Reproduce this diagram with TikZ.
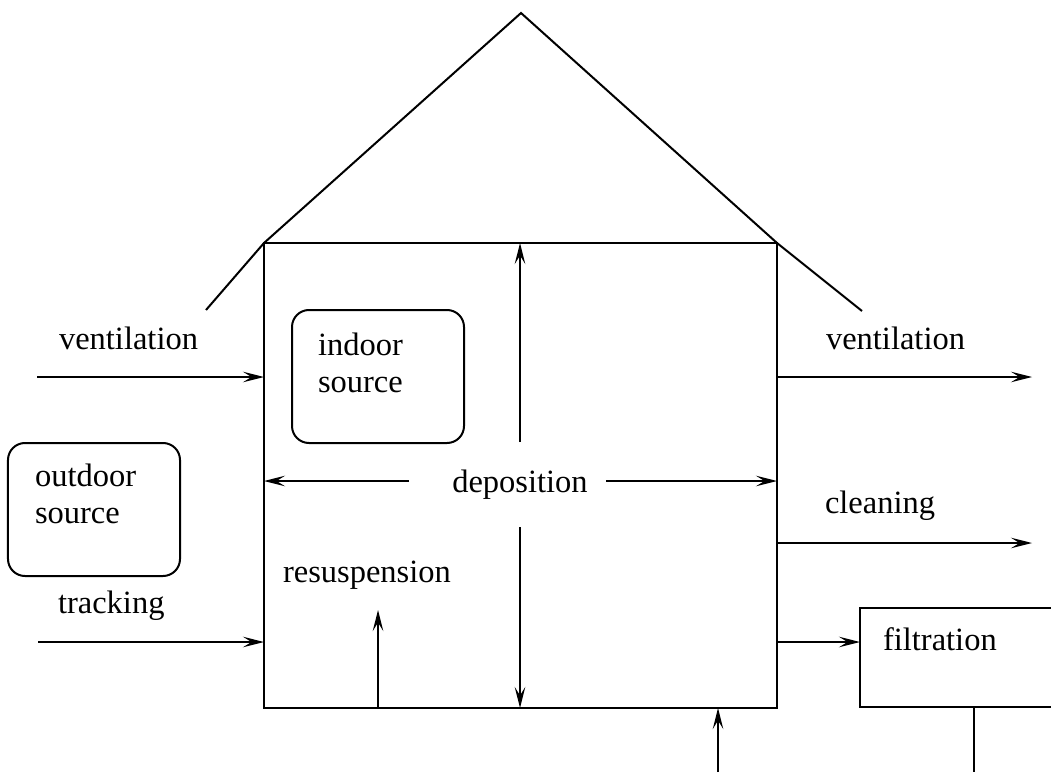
\documentclass[tikz,border=0pt]{standalone}
\usepackage{fontspec}
\setmainfont{Liberation Serif}
\usetikzlibrary{arrows.meta}
\tikzset{%
    flow/.style={-{Stealth[length=8.4pt,width=4.2pt,inset=3.4pt]}},
    srcbox/.style={draw, rounded corners=6.8pt, minimum width=68.8pt,
        minimum height=53.2pt, inner sep=0pt, outer sep=0pt},
    lbl/.style={anchor=base west, inner sep=0pt, align=left,
        font=\fontsize{13}{14.6}\selectfont}
}

\begin{document}
\begin{tikzpicture}[x=0.4pt,y=-0.4pt,line width=0.8pt]
    \useasboundingbox (0,0) rectangle (1051,772);
    \clip (0,0) rectangle (1051,772);
    % house and roof
    \node[draw, minimum width=205.2pt, minimum height=186pt, inner sep=0pt,
        outer sep=0pt] (house) at (520.5,475.5) {};
    \coordinate (apex) at (521,13);
    \coordinate (eaveL) at (206,310);
    \coordinate (eaveR) at (862,311);
    \draw (eaveL) -- (house.north west) -- (apex) -- (house.north east) -- (eaveR);
    % sources and filter
    \node[srcbox] (indoor) at (378,376.5) {};
    \node[srcbox] (outdoor) at (94,509.5) {};
    \node[draw, minimum width=100pt, minimum height=39.6pt, inner sep=0pt,
        outer sep=0pt] (filter) at (985,657.5) {};
	\node[lbl] (indoortxt) at (317,392) {indoor\\source};
	\node[lbl] (outdoortxt) at (34,523) {outdoor\\source};
	\node[lbl] (filtertxt) at (882,650) {filtration};
    % labels
	\node[lbl] (ventL) at (58,349) {ventilation};
	\node[lbl] (track) at (57,613) {tracking};
	\node[lbl] (resustxt) at (282,582) {resuspension};
	\node[lbl] (ventR) at (825,349) {ventilation};
	\node[lbl] (clean) at (824,513) {cleaning};
	\node[lbl, anchor=center, minimum height=33.2pt] (depo) at (520,484.5) {deposition};
    % flows in
    \coordinate (ventin) at (37,377);
    \coordinate (trackin) at (38,642);
    \coordinate (inlet) at (718,772);
    \coordinate (resus) at (378,610);
    \draw[flow] (ventin) -- (ventin -| house.west);
    \draw[flow] (trackin) -- (trackin -| house.west);
    \draw[flow] (inlet) -- (inlet |- house.south);
    \draw[flow] (resus |- house.south) -- (resus);
    % deposition
    \coordinate (depL) at (409,481);
    \coordinate (depR) at (606,481);
    \draw[flow] (depo.north) -- (depo.north |- house.north);
    \draw[flow] (depo.south) -- (depo.south |- house.south);
    \draw[flow] (depL) -- (depL -| house.west);
    \draw[flow] (depR) -- (depR -| house.east);
    % flows out
    \coordinate (ventout) at (1032,377);
    \coordinate (cleanout) at (1032,543);
    \coordinate (filtin) at (860,642);
    \coordinate (drain) at (974,772);
    \draw[flow] (ventout -| house.east) -- (ventout);
    \draw[flow] (cleanout -| house.east) -- (cleanout);
    \draw[flow] (house.east |- filtin) -- (filtin -| filter.west);
    \draw (drain |- filter.south) -- (drain);
\end{tikzpicture}
\end{document}
